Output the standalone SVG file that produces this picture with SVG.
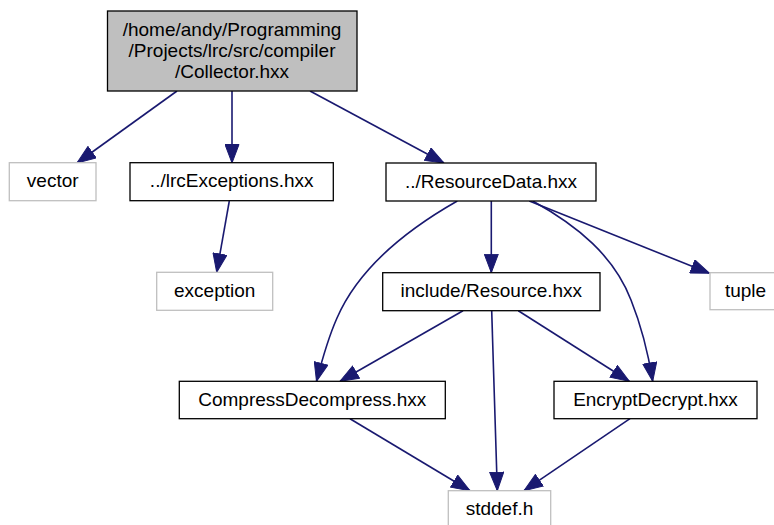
<svg xmlns="http://www.w3.org/2000/svg" width="774" height="525" viewBox="0 0 774 525">
  <style>
    .box { fill: #ffffff; stroke: #000000; stroke-width: 1.3; }
    .sys { fill: #ffffff; stroke: #bfbfbf; stroke-width: 1.3; }
    .root { fill: #bfbfbf; stroke: #000000; stroke-width: 1.3; }
    .lbl { font-family: "Liberation Sans", Arial, Helvetica, sans-serif; font-size: 19px; fill: #000000; text-anchor: middle; }
    .edge { fill: none; stroke: #191970; stroke-width: 1.6; marker-end: url(#arrow); }
  </style>
  <defs>
    <marker id="arrow" viewBox="0 0 19 15" refX="19" refY="7.5" markerWidth="19" markerHeight="15" markerUnits="userSpaceOnUse" orient="auto">
      <path d="M0.5,0.5 L19,7.5 L0.5,14.5 Z" fill="#191970" stroke="#191970" stroke-width="1"/>
    </marker>
  </defs>
  <rect width="774" height="525" fill="#ffffff"/>

  <!-- include dependencies -->
  <g id="edges">
    <path class="edge" d="M177,91 L77,163"/>
    <path class="edge" d="M232,91 L232,163"/>
    <path class="edge" d="M310,91 L444,163"/>
    <path class="edge" d="M229.3,201 L216.7,272.3"/>
    <path class="edge" d="M491.3,201 L491.3,272.7"/>
    <path class="edge" d="M529.3,201 L709.5,273.3"/>
    <path class="edge" d="M457.3,201 C401,233 357,272 337,318 C329,336 323,356 316.5,381.3"/>
    <path class="edge" d="M532.7,201 C578,226 614,256 631,300 C641,325 648,352 652.7,381.3"/>
    <path class="edge" d="M463,310.7 L340,381.3"/>
    <path class="edge" d="M491.7,310.7 L497.3,490.7"/>
    <path class="edge" d="M518.3,310.7 L629.3,381.3"/>
    <path class="edge" d="M350,418.7 L470,490.7"/>
    <path class="edge" d="M630,418.7 L524,490.7"/>
  </g>

  <g id="node-collector">
    <rect class="root" x="107.5" y="11" width="249.5" height="80"/>
    <text class="lbl" x="232" y="35.5">/home/andy/Programming</text>
    <text class="lbl" x="232" y="56.5">/Projects/lrc/src/compiler</text>
    <text class="lbl" x="232" y="77.5">/Collector.hxx</text>
  </g>
  <g id="node-vector">
    <rect class="sys" x="9.3" y="162.7" width="86.7" height="38"/>
    <text class="lbl" x="52.7" y="187.2">vector</text>
  </g>
  <g id="node-lrcexceptions">
    <rect class="box" x="130" y="162.7" width="203.3" height="38"/>
    <text class="lbl" x="231.7" y="187.2">../lrcExceptions.hxx</text>
  </g>
  <g id="node-resourcedata">
    <rect class="box" x="386" y="163" width="210" height="38"/>
    <text class="lbl" x="491" y="187.5">../ResourceData.hxx</text>
  </g>
  <g id="node-exception">
    <rect class="sys" x="156.7" y="272.3" width="116" height="38"/>
    <text class="lbl" x="214.7" y="296.8">exception</text>
  </g>
  <g id="node-resource">
    <rect class="box" x="382.7" y="272.7" width="217.3" height="38"/>
    <text class="lbl" x="491.3" y="297.2">include/Resource.hxx</text>
  </g>
  <g id="node-tuple">
    <rect class="sys" x="710" y="272.7" width="71" height="37"/>
    <text class="lbl" x="745.5" y="297.2">tuple</text>
  </g>
  <g id="node-compressdecompress">
    <rect class="box" x="179.3" y="381.3" width="266" height="37.4"/>
    <text class="lbl" x="312.3" y="405.6">CompressDecompress.hxx</text>
  </g>
  <g id="node-encryptdecrypt">
    <rect class="box" x="554" y="381.3" width="203" height="37.4"/>
    <text class="lbl" x="655.5" y="405.6">EncryptDecrypt.hxx</text>
  </g>
  <g id="node-stddef">
    <rect class="sys" x="448.3" y="490.7" width="102.4" height="38"/>
    <text class="lbl" x="499.5" y="515.2">stddef.h</text>
  </g>
</svg>
